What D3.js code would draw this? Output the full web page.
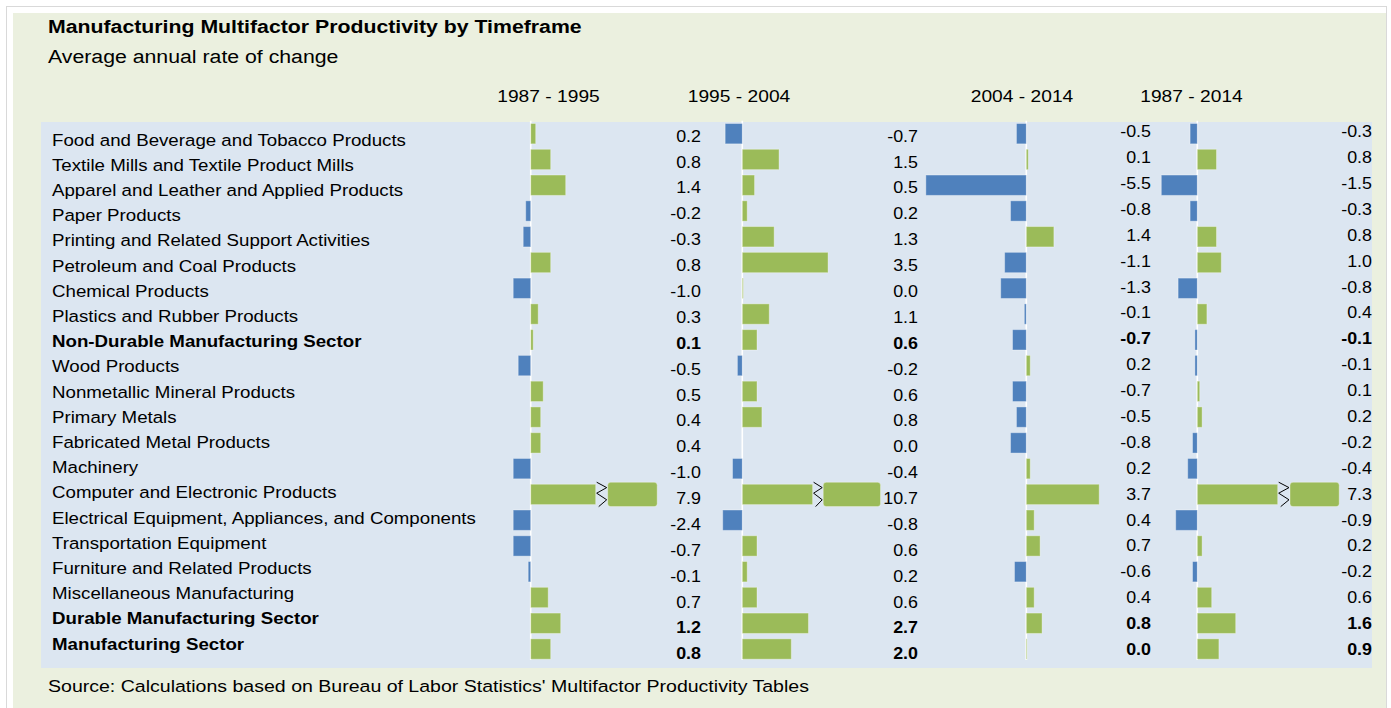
<!DOCTYPE html>
<html>
<head>
<meta charset="utf-8">
<script src="https://cdn.jsdelivr.net/npm/d3@7"></script>
<style>
  html, body { margin: 0; padding: 0; background: #ffffff; }
  svg { display: block; font-family: "Liberation Sans", Arial, sans-serif; }
</style>
</head>
<body>
<svg id="chart" width="1391" height="708"></svg>
<script>
// ---------------- DATA ----------------
const categories = [
  "Food and Beverage and Tobacco Products",
  "Textile Mills and Textile Product Mills",
  "Apparel and Leather and Applied Products",
  "Paper Products",
  "Printing and Related Support Activities",
  "Petroleum and Coal Products",
  "Chemical Products",
  "Plastics and Rubber Products",
  "Non-Durable Manufacturing Sector",
  "Wood Products",
  "Nonmetallic Mineral Products",
  "Primary Metals",
  "Fabricated Metal Products",
  "Machinery",
  "Computer and Electronic Products",
  "Electrical Equipment, Appliances, and Components",
  "Transportation Equipment",
  "Furniture and Related Products",
  "Miscellaneous Manufacturing",
  "Durable Manufacturing Sector",
  "Manufacturing Sector"
];
const boldCategories = [
  "Non-Durable Manufacturing Sector",
  "Durable Manufacturing Sector",
  "Manufacturing Sector"
];
const periods = ["1987 - 1995", "1995 - 2004", "2004 - 2014", "1987 - 2014"];

const values1987to1995 = [0.2, 0.8, 1.4, -0.2, -0.3, 0.8, -1.0, 0.3, 0.1, -0.5, 0.5, 0.4, 0.4, -1.0, 7.9, -2.4, -0.7, -0.1, 0.7, 1.2, 0.8];
const values1995to2004 = [-0.7, 1.5, 0.5, 0.2, 1.3, 3.5, 0.04, 1.1, 0.6, -0.2, 0.6, 0.8, 0.0, -0.4, 10.7, -0.8, 0.6, 0.2, 0.6, 2.7, 2.0];
const values2004to2014 = [-0.5, 0.1, -5.5, -0.8, 1.4, -1.1, -1.3, -0.1, -0.7, 0.2, -0.7, -0.5, -0.8, 0.2, 3.7, 0.4, 0.7, -0.6, 0.4, 0.8, 0.04];
const values1987to2014 = [-0.3, 0.8, -1.5, -0.3, 0.8, 1.0, -0.8, 0.4, -0.1, -0.1, 0.1, 0.2, -0.2, -0.4, 7.3, -0.9, 0.2, -0.2, 0.6, 1.6, 0.9];

const titleText = "Manufacturing Multifactor Productivity by Timeframe";
const subtitleText = "Average annual rate of change";
const sourceText = "Source: Calculations based on Bureau of Labor Statistics' Multifactor Productivity Tables";

// ---------------- LAYOUT / STYLE ----------------
const GREEN = "#9BBB59", BLUE = "#4F81BD";
const OUTER_BG = "#EBF0DF", PANEL_BG = "#DCE6F1";

// axis config per timeframe: zero position, px per unit, axis min (bars clamp), optional axis break
const panelSpecs = [
  { values: values1987to1995, zero: 530.7, unit: 25.0, min: -0.7, breakLo: 2.6,  breakHi: 5.92, gap: 12,   labelX: 701,  labelRange: [141.7, 659.3], headX: 548.5 },
  { values: values1995to2004, zero: 742.3, unit: 24.5, min: -0.8, breakLo: 2.87, breakHi: 8.36, gap: 10.6, labelX: 918,  labelRange: [141.7, 659.3], headX: 739 },
  { values: values2004to2014, zero: 1026.3, unit: 19.7, min: -5.1, breakLo: null, labelX: 1151, labelRange: [137.3, 655], headX: 1022 },
  { values: values1987to2014, zero: 1197.3, unit: 24.0, min: -1.5, breakLo: 3.35, breakHi: 5.25, gap: 12.3, labelX: 1372, labelRange: [137.3, 655], headX: 1191.5 }
];

const fmtLocale = d3.formatLocale({ decimal: ".", thousands: ",", grouping: [3], currency: ["$", ""], minus: "-" });
const fmt = fmtLocale.format(".1f");

const svg = d3.select("#chart");

// horizontally stretched text helper
function stretchedText(sel, x, y, sx) {
  return sel.attr("transform", `translate(${x},${y}) scale(${sx},1)`);
}

// backgrounds
svg.append("rect").attr("x", 6.5).attr("y", 6.5).attr("width", 1380).attr("height", 720)
  .attr("fill", "#ffffff").attr("stroke", "#D9D9D9").attr("stroke-width", 1);
svg.append("rect").attr("x", 13).attr("y", 13).attr("width", 1373).attr("height", 700).attr("fill", OUTER_BG);
svg.append("rect").attr("x", 41).attr("y", 122).attr("width", 1331).attr("height", 546).attr("fill", PANEL_BG);

// titles
stretchedText(svg.append("text"), 48, 33, 1.12).attr("font-size", 19).attr("font-weight", "bold")
  .attr("fill", "#000").text(titleText);
stretchedText(svg.append("text"), 48, 63, 1.12).attr("font-size", 19)
  .attr("fill", "#000").text(subtitleText);
stretchedText(svg.append("text"), 48, 692, 1.15).attr("font-size", 17)
  .attr("fill", "#000").text(sourceText);

// row scales
const yBar = d3.scaleBand().domain(categories).range([120.8, 661.9]).paddingInner(0.21).paddingOuter(0.105);
const yCat = d3.scalePoint().domain(categories).range([145.5, 649.5]);

// category labels
svg.append("g").selectAll("text").data(categories).join("text")
  .attr("transform", d => `translate(52,${yCat(d)}) scale(1.1,1)`)
  .attr("font-size", 17)
  .attr("font-weight", d => boldCategories.includes(d) ? "bold" : "normal")
  .attr("fill", "#000")
  .text(d => d);

// panels
panelSpecs.forEach((p, pi) => {
  const vmax = d3.max(p.values);
  // ordinary bars: plain linear scale, clamped at the axis minimum
  const x = d3.scaleLinear().domain([p.min, 0]).range([p.zero + p.min * p.unit, p.zero]);
  const xv = v => x(Math.max(p.min, v));
  // broken bars: piecewise scale with an axis break
  let xBreak = null;
  if (p.breakLo != null) {
    const xb1 = x(p.breakLo), xb2 = xb1 + p.gap;
    xBreak = d3.scaleLinear()
      .domain([0, p.breakLo, p.breakHi, vmax])
      .range([p.zero, xb1, xb2, xb2 + (vmax - p.breakHi) * p.unit]);
  }
  const g = svg.append("g").attr("class", "panel-" + pi);

  // header
  stretchedText(svg.append("text"), p.headX, 102, 1.13).attr("text-anchor", "middle")
    .attr("font-size", 17).attr("fill", "#000").text(periods[pi]);

  const rows = categories.map((c, i) => ({ cat: c, v: p.values[i] }));

  // zero line
  g.append("line")
    .attr("x1", x(0)).attr("x2", x(0))
    .attr("y1", yBar.range()[0]).attr("y2", yBar.range()[1] - 2)
    .attr("stroke", "#ffffff").attr("stroke-width", 1.6);

  rows.forEach(r => {
    const color = r.v < 0 ? BLUE : GREEN;
    const y0 = yBar(r.cat), h = yBar.bandwidth();
    const broken = xBreak && r.v > p.breakHi;
    if (!broken) {
      const xa = xv(Math.min(0, r.v)), xb = xv(Math.max(0, r.v));
      g.append("rect").attr("x", xa).attr("y", y0).attr("width", Math.max(0, xb - xa)).attr("height", h)
        .attr("fill", color).attr("stroke", "#ffffff").attr("stroke-opacity", 0.35).attr("stroke-width", 1);
    } else {
      const xa = xBreak(0), xb1 = xBreak(p.breakLo), xb2 = xBreak(p.breakHi), xe = xBreak(r.v);
      g.append("rect").attr("x", xa).attr("y", y0).attr("width", xb1 - xa).attr("height", h)
        .attr("fill", color).attr("stroke", "#ffffff").attr("stroke-opacity", 0.35).attr("stroke-width", 1);
      g.append("rect").attr("x", xb2).attr("y", y0 - 2).attr("width", xe - xb2).attr("height", h + 4)
        .attr("rx", 3).attr("fill", color).attr("stroke", "#ffffff").attr("stroke-opacity", 0.35).attr("stroke-width", 1);
      // break marks (zigzag)
      const top = y0 - 2, bot = y0 + h + 2, hh = bot - top;
      const pts = [
        [xb1 + 1, top], [xb2 - 1, top + hh * 0.22], [xb1 + 1, top + hh * 0.45],
        [xb2 - 1, top + hh * 0.72], [xb1 + 3, bot]
      ];
      g.append("path").attr("d", d3.line()(pts)).attr("fill", "none")
        .attr("stroke", "#000").attr("stroke-width", 1);
    }
  });

  // value labels
  const yLab = d3.scalePoint().domain(categories).range(p.labelRange);
  g.selectAll("text.val").data(rows).join("text").attr("class", "val")
    .attr("transform", d => `translate(${p.labelX},${yLab(d.cat)}) scale(1.05,1)`)
    .attr("text-anchor", "end").attr("font-size", 17)
    .attr("font-weight", d => boldCategories.includes(d.cat) ? "bold" : "normal")
    .attr("fill", "#000")
    .text(d => fmt(d.v));
});
</script>
</body>
</html>
